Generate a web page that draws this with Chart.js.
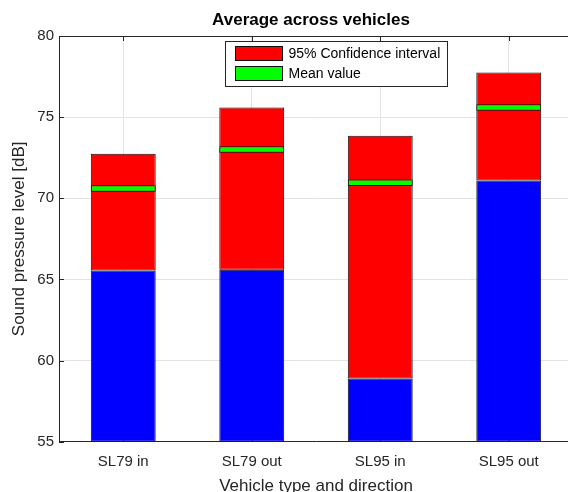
<!DOCTYPE html>
<html>
<head>
<meta charset="utf-8">
<title>Average across vehicles</title>
<script src="https://cdn.jsdelivr.net/npm/chart.js@4/dist/chart.umd.min.js"></script>
<style>
  html, body { margin: 0; padding: 0; background: #fff; overflow: hidden; }
  #wrap { width: 568px; height: 492px; overflow: hidden; }
  canvas { display: block; }
</style>
</head>
<body>
<div id="wrap"><canvas id="chart" width="590" height="492"></canvas></div>
<script>
// Vehicle groups on the x axis
const categories = ['SL79 in', 'SL79 out', 'SL95 in', 'SL95 out'];
// 95% confidence interval bounds, dB
const ciLower = [65.55, 65.6, 58.9, 71.1];
const ciUpper = [72.75, 75.6, 73.85, 77.75];
// Mean sound pressure level, dB
const meanValue = [70.6, 73.0, 70.95, 75.6];
// Drawn thickness of the mean marker, dB
const meanBand = 0.4;
// Y axis range and ticks
const yMin = 55, yMax = 80, yStep = 5;

const AXIS_COLOR = '#262626';
const GRID_COLOR = '#e3e3e3';
const FONT = '"Liberation Sans", Arial, Helvetica, sans-serif';

const baseBars = categories.map((c, i) => [yMin, ciLower[i]]);
const ciBars = categories.map((c, i) => [ciLower[i], ciUpper[i]]);
const meanBars = categories.map((c, i) => [meanValue[i] - meanBand / 2, meanValue[i] + meanBand / 2]);

const barCommon = {
  grouped: false,
  borderWidth: 1,
  borderColor: '#111111',
  borderSkipped: false,
  barPercentage: 0.505,
  categoryPercentage: 1.0
};

// Title, box outline, inward ticks and the framed legend
const framePlugin = {
  id: 'frame',
  beforeDatasetsDraw(chart) {
    const { ctx, chartArea: a, scales } = chart;
    ctx.save();
    ctx.strokeStyle = AXIS_COLOR;
    ctx.lineWidth = 1;
    const tl = 5;
    scales.y.ticks.forEach(t => {
      const y = Math.round(scales.y.getPixelForValue(t.value)) + 0.5;
      ctx.beginPath();
      ctx.moveTo(a.left, y); ctx.lineTo(a.left + tl, y);
      ctx.moveTo(a.right, y); ctx.lineTo(a.right - tl, y);
      ctx.stroke();
    });
    categories.forEach((c, i) => {
      const x = Math.round(scales.x.getPixelForValue(i)) + 0.5;
      ctx.beginPath();
      ctx.moveTo(x, a.top); ctx.lineTo(x, a.top + tl);
      ctx.moveTo(x, a.bottom); ctx.lineTo(x, a.bottom - tl);
      ctx.stroke();
    });
    ctx.restore();
  },
  afterDraw(chart) {
    const { ctx, chartArea: a } = chart;
    ctx.save();
    // top edge of the axes box
    ctx.strokeStyle = AXIS_COLOR;
    ctx.lineWidth = 1;
    ctx.beginPath();
    ctx.moveTo(a.left, Math.round(a.top) + 0.5);
    ctx.lineTo(a.right, Math.round(a.top) + 0.5);
    ctx.stroke();

    // title centred over the axes
    ctx.fillStyle = '#000';
    ctx.font = 'bold 17px ' + FONT;
    ctx.textAlign = 'center';
    ctx.textBaseline = 'middle';
    ctx.fillText('Average across vehicles', (a.left + a.right) / 2 - 5, 20);

    // legend
    const items = chart.data.datasets.filter(d => d.inLegend);
    ctx.font = '14px ' + FONT;
    const textW = Math.max(...items.map(d => ctx.measureText(d.label).width));
    const bx = Math.round(a.left + 166) + 0.5;
    const by = Math.round(a.top + 5) + 0.5;
    const rowH = 20;
    const bw = Math.round(10 + 47 + 6 + textW + 7);
    const bh = 10 + rowH * items.length - 5;
    ctx.fillStyle = '#fff';
    ctx.fillRect(bx, by, bw, bh);
    ctx.strokeStyle = AXIS_COLOR;
    ctx.strokeRect(bx, by, bw, bh);
    items.forEach((d, i) => {
      const py = by + 5 + i * rowH;
      ctx.fillStyle = d.backgroundColor;
      ctx.fillRect(bx + 10, py, 47, 14);
      ctx.strokeStyle = '#111111';
      ctx.strokeRect(bx + 10, py, 47, 14);
      ctx.fillStyle = '#000';
      ctx.textAlign = 'left';
      ctx.textBaseline = 'middle';
      ctx.fillText(d.label, bx + 63, py + 7.5);
    });
    ctx.restore();
  }
};

new Chart(document.getElementById('chart'), {
  type: 'bar',
  data: {
    labels: categories,
    datasets: [
      Object.assign({ label: '95% Confidence interval', data: ciBars, backgroundColor: '#ff0000', order: 1, inLegend: true }, barCommon),
      Object.assign({ label: 'Mean value', data: meanBars, backgroundColor: '#00ff00', order: 0, inLegend: true }, barCommon),
      Object.assign({ label: 'Base', data: baseBars, backgroundColor: '#0000ff', order: 2, inLegend: false }, barCommon)
    ]
  },
  options: {
    responsive: false,
    animation: false,
    devicePixelRatio: 1,
    layout: { padding: { top: 36, right: 17, left: 0, bottom: 0 } },
    plugins: {
      legend: { display: false },
      title: { display: false },
      tooltip: { enabled: false }
    },
    scales: {
      x: {
        offset: true,
        grid: { offset: false, color: GRID_COLOR, drawTicks: false },
        border: { color: AXIS_COLOR, width: 1 },
        ticks: { color: AXIS_COLOR, font: { family: FONT, size: 15 }, padding: 11, maxRotation: 0 },
        title: { display: true, text: 'Vehicle type and direction', color: AXIS_COLOR,
                 font: { family: FONT, size: 17, lineHeight: 0.7 }, padding: { top: 0, bottom: 0 } },
        afterFit(scale) { scale.height = 50.3; }
      },
      y: {
        min: yMin,
        max: yMax,
        grid: { color: GRID_COLOR, drawTicks: false },
        border: { color: AXIS_COLOR, width: 1 },
        ticks: { stepSize: yStep, color: AXIS_COLOR, font: { family: FONT, size: 15 }, padding: 5 },
        title: { display: true, text: 'Sound pressure level [dB]', color: AXIS_COLOR,
                 font: { family: FONT, size: 17, lineHeight: 1.2 }, padding: { top: 9, bottom: 0 } },
        afterFit(scale) { scale.width = 59; }
      }
    }
  },
  plugins: [framePlugin]
});
</script>
</body>
</html>
